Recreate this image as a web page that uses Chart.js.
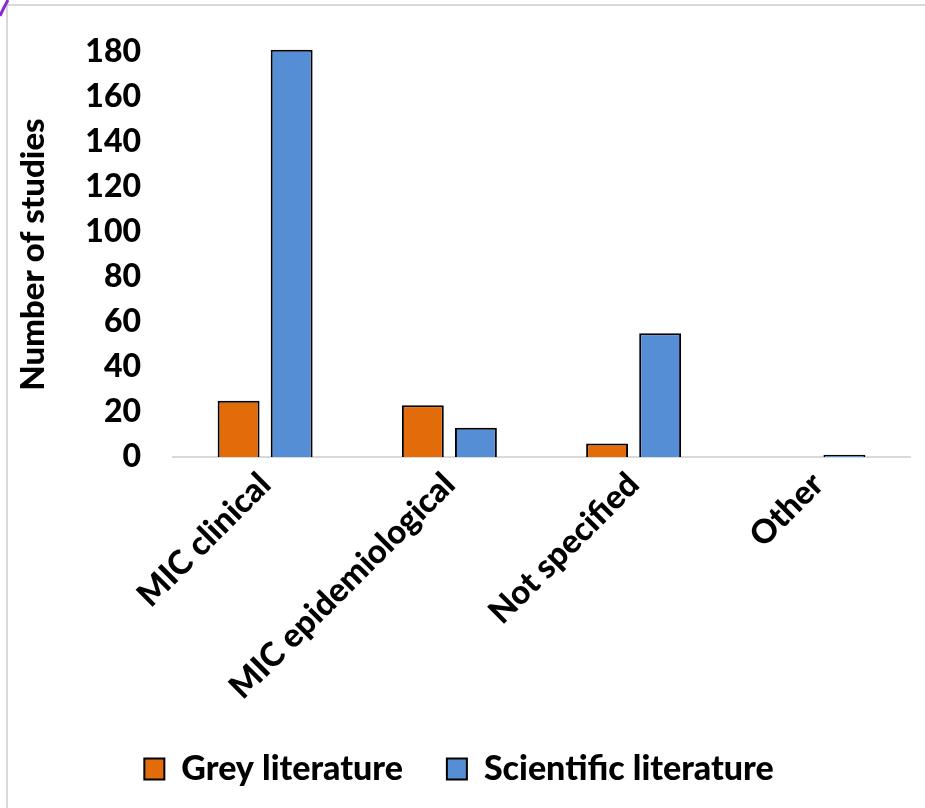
<!DOCTYPE html>
<html>
<head>
<meta charset="utf-8">
<script src="https://cdn.jsdelivr.net/npm/chart.js@4/dist/chart.umd.min.js"></script>
<style>
  html, body { margin: 0; padding: 0; background: #ffffff; }
  #wrap { width: 925px; height: 808px; position: relative; }
</style>
</head>
<body>
<div id="wrap"><canvas id="c" width="925" height="808"></canvas></div>
<script>
// Categories and study counts per literature type
const categories = ["MIC clinical", "MIC epidemiological", "Not specified", "Other"];
const greyLiterature = [25, 23, 6, 0];
const scientificLiterature = [181, 13, 55, 1];
const yTicks = [0, 20, 40, 60, 80, 100, 120, 140, 160, 180];

const FONT = "Lato, 'Open Sans', sans-serif";
const WEIGHT = '900';

// White page with a thin grey frame on the top and left edges
const framePlugin = {
  id: 'frame',
  beforeDraw(chart) {
    const ctx = chart.ctx;
    ctx.save();
    ctx.fillStyle = '#ffffff';
    ctx.fillRect(0, 0, chart.width, chart.height);
    ctx.strokeStyle = '#d9d9d9';
    ctx.lineWidth = 2;
    ctx.beginPath();
    ctx.moveTo(7, chart.height);
    ctx.lineTo(7, 5);
    ctx.lineTo(chart.width, 5);
    ctx.stroke();
    ctx.strokeStyle = '#8a2bd0';
    ctx.lineWidth = 3;
    ctx.beginPath();
    ctx.moveTo(0, 16);
    ctx.quadraticCurveTo(4, 7, 8, 0);
    ctx.stroke();
    ctx.restore();
  }
};

new Chart(document.getElementById('c'), {
  type: 'bar',
  data: {
    labels: categories,
    datasets: [
      {
        label: 'Grey literature',
        data: greyLiterature,
        backgroundColor: '#e36c0a',
        borderColor: '#000000',
        borderWidth: 2,
        clip: false
      },
      {
        label: 'Scientific literature',
        data: scientificLiterature,
        backgroundColor: '#558ed5',
        borderColor: '#000000',
        borderWidth: 2,
        clip: false
      }
    ]
  },
  options: {
    responsive: false,
    animation: false,
    devicePixelRatio: 1,
    categoryPercentage: 0.576,
    barPercentage: 0.79,
    layout: { padding: { left: 8, right: 15, top: 52, bottom: 12 } },
    plugins: {
      tooltip: { enabled: false },
      legend: {
        position: 'bottom',
        labels: {
          color: '#000000',
          font: { family: FONT, size: 34, weight: WEIGHT },
          boxWidth: 20,
          boxHeight: 21,
          padding: 44
        }
      }
    },
    scales: {
      x: {
        grid: { display: false, drawTicks: false },
        border: { display: true, color: '#d9d9d9', width: 2 },
        ticks: {
          color: '#000000',
          font: { family: FONT, size: 33, weight: WEIGHT },
          maxRotation: 45,
          minRotation: 45,
          padding: 8
        },
        afterFit(scale) { scale.height = 251; }
      },
      y: {
        min: 0,
        max: 180,
        grid: { display: false, drawTicks: false },
        border: { display: false },
        afterBuildTicks(scale) { scale.ticks = yTicks.map(v => ({ value: v })); },
        ticks: {
          color: '#000000',
          font: { family: FONT, size: 32, weight: WEIGHT },
          padding: 32
        },
        title: {
          display: true,
          text: 'Number of studies',
          color: '#000000',
          font: { family: FONT, size: 33, weight: WEIGHT },
          padding: { top: 6, bottom: 0 }
        },
        afterFit(scale) { scale.width = 165; }
      }
    }
  },
  plugins: [framePlugin]
});
</script>
</body>
</html>
